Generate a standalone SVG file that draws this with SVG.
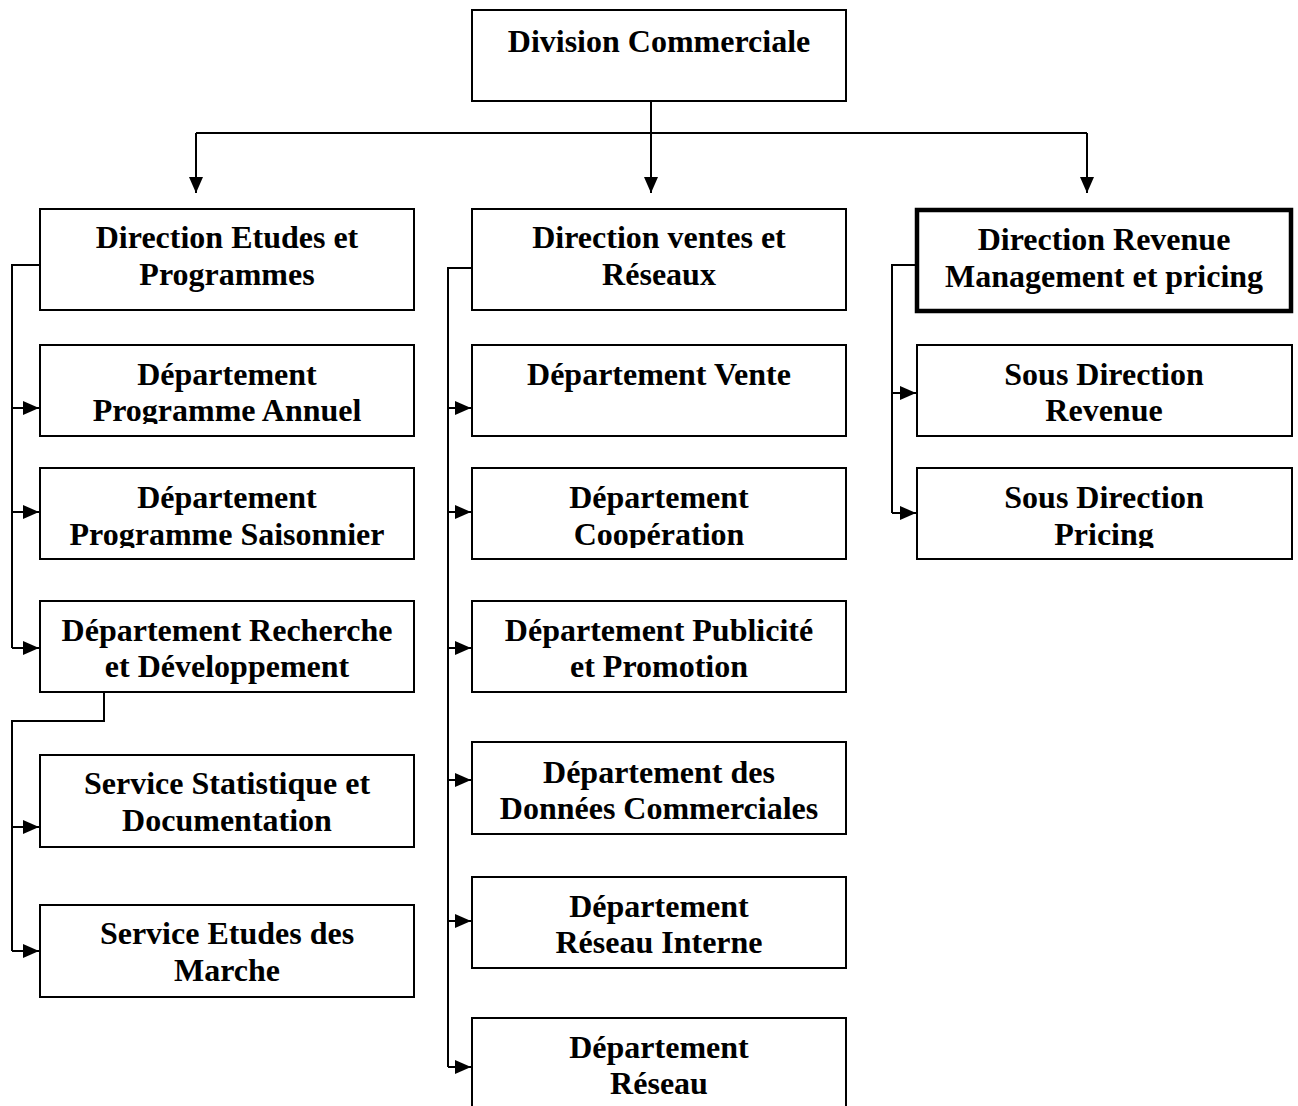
<svg xmlns="http://www.w3.org/2000/svg" width="1298" height="1106" viewBox="0 0 1298 1106">
<style>
.box{fill:#fff;stroke:#000;stroke-width:2}
.thick{fill:#fff;stroke:#000;stroke-width:4.5}
.t{font-family:"Liberation Serif","Times New Roman",serif;font-weight:bold;font-size:32px;fill:#000;text-anchor:middle}
.c{fill:none;stroke:#000;stroke-width:2}
</style>
<defs>
<marker id="ah" markerUnits="userSpaceOnUse" markerWidth="17" markerHeight="15" refX="16" refY="7" orient="auto">
<path d="M0,0 L16,7 L0,14 z" fill="#000"/>
</marker>
<clipPath id="clipR1"><rect x="0" y="345" width="1298" height="79"/></clipPath>
<clipPath id="clipR2"><rect x="0" y="468" width="1298" height="80"/></clipPath>
</defs>
<rect width="1298" height="1106" fill="#fff"/>

<g id="connectors">
<path class="c" d="M651,101 V193" marker-end="url(#ah)"/>
<path class="c" d="M196,133 H1087"/>
<path class="c" d="M196,133 V193" marker-end="url(#ah)"/>
<path class="c" d="M1087,133 V193" marker-end="url(#ah)"/>
<path class="c" d="M40,265 H12 V648"/>
<path class="c" d="M12,408 H39" marker-end="url(#ah)"/>
<path class="c" d="M12,512 H39" marker-end="url(#ah)"/>
<path class="c" d="M12,648 H39" marker-end="url(#ah)"/>
<path class="c" d="M104,692 V721 H12 V951"/>
<path class="c" d="M12,827 H39" marker-end="url(#ah)"/>
<path class="c" d="M12,951 H39" marker-end="url(#ah)"/>
<path class="c" d="M472,268 H448 V1067"/>
<path class="c" d="M448,408 H471" marker-end="url(#ah)"/>
<path class="c" d="M448,512 H471" marker-end="url(#ah)"/>
<path class="c" d="M448,648 H471" marker-end="url(#ah)"/>
<path class="c" d="M448,780 H471" marker-end="url(#ah)"/>
<path class="c" d="M448,921 H471" marker-end="url(#ah)"/>
<path class="c" d="M448,1067 H471" marker-end="url(#ah)"/>
<path class="c" d="M917,265 H892 V513"/>
<path class="c" d="M892,393 H916" marker-end="url(#ah)"/>
<path class="c" d="M892,513 H916" marker-end="url(#ah)"/>
</g>

<g id="n-division">
<rect class="box" x="472" y="10" width="374" height="91"/>
<text class="t" x="659" y="52">Division Commerciale</text>
</g>

<g id="n-dir-etudes">
<rect class="box" x="40" y="209" width="374" height="101"/>
<text class="t" x="227" y="248">Direction Etudes et</text>
<text class="t" x="227" y="285">Programmes</text>
</g>
<g id="n-prog-annuel">
<rect class="box" x="40" y="345" width="374" height="91"/>
<g clip-path="url(#clipR1)">
<text class="t" x="227" y="385">Département</text>
<text class="t" x="227" y="421">Programme Annuel</text>
</g>
</g>
<g id="n-prog-saison">
<rect class="box" x="40" y="468" width="374" height="91"/>
<g clip-path="url(#clipR2)">
<text class="t" x="227" y="508">Département</text>
<text class="t" x="227" y="545">Programme Saisonnier</text>
</g>
</g>
<g id="n-recherche">
<rect class="box" x="40" y="601" width="374" height="91"/>
<text class="t" x="227" y="641">Département Recherche</text>
<text class="t" x="227" y="677">et Développement</text>
</g>
<g id="n-statistique">
<rect class="box" x="40" y="755" width="374" height="92"/>
<text class="t" x="227" y="794">Service Statistique et</text>
<text class="t" x="227" y="831">Documentation</text>
</g>
<g id="n-marche">
<rect class="box" x="40" y="905" width="374" height="92"/>
<text class="t" x="227" y="944">Service Etudes des</text>
<text class="t" x="227" y="981">Marche</text>
</g>

<g id="n-dir-ventes">
<rect class="box" x="472" y="209" width="374" height="101"/>
<text class="t" x="659" y="248">Direction ventes et</text>
<text class="t" x="659" y="285">Réseaux</text>
</g>
<g id="n-vente">
<rect class="box" x="472" y="345" width="374" height="91"/>
<text class="t" x="659" y="385">Département Vente</text>
</g>
<g id="n-cooperation">
<rect class="box" x="472" y="468" width="374" height="91"/>
<g clip-path="url(#clipR2)">
<text class="t" x="659" y="508">Département</text>
<text class="t" x="659" y="545">Coopération</text>
</g>
</g>
<g id="n-publicite">
<rect class="box" x="472" y="601" width="374" height="91"/>
<text class="t" x="659" y="641">Département Publicité</text>
<text class="t" x="659" y="677">et Promotion</text>
</g>
<g id="n-donnees">
<rect class="box" x="472" y="742" width="374" height="92"/>
<text class="t" x="659" y="783">Département des</text>
<text class="t" x="659" y="819">Données Commerciales</text>
</g>
<g id="n-reseau-interne">
<rect class="box" x="472" y="877" width="374" height="91"/>
<text class="t" x="659" y="917">Département</text>
<text class="t" x="659" y="953">Réseau Interne</text>
</g>
<g id="n-reseau">
<rect class="box" x="472" y="1018" width="374" height="100"/>
<text class="t" x="659" y="1058">Département</text>
<text class="t" x="659" y="1094">Réseau</text>
</g>

<g id="n-dir-revenue">
<rect class="thick" x="917" y="210" width="374" height="101"/>
<text class="t" x="1104" y="250">Direction Revenue</text>
<text class="t" x="1104" y="287">Management et pricing</text>
</g>
<g id="n-sd-revenue">
<rect class="box" x="917" y="345" width="375" height="91"/>
<text class="t" x="1104" y="385">Sous Direction</text>
<text class="t" x="1104" y="421">Revenue</text>
</g>
<g id="n-sd-pricing">
<rect class="box" x="917" y="468" width="375" height="91"/>
<g clip-path="url(#clipR2)">
<text class="t" x="1104" y="508">Sous Direction</text>
<text class="t" x="1104" y="545">Pricing</text>
</g>
</g>
</svg>
